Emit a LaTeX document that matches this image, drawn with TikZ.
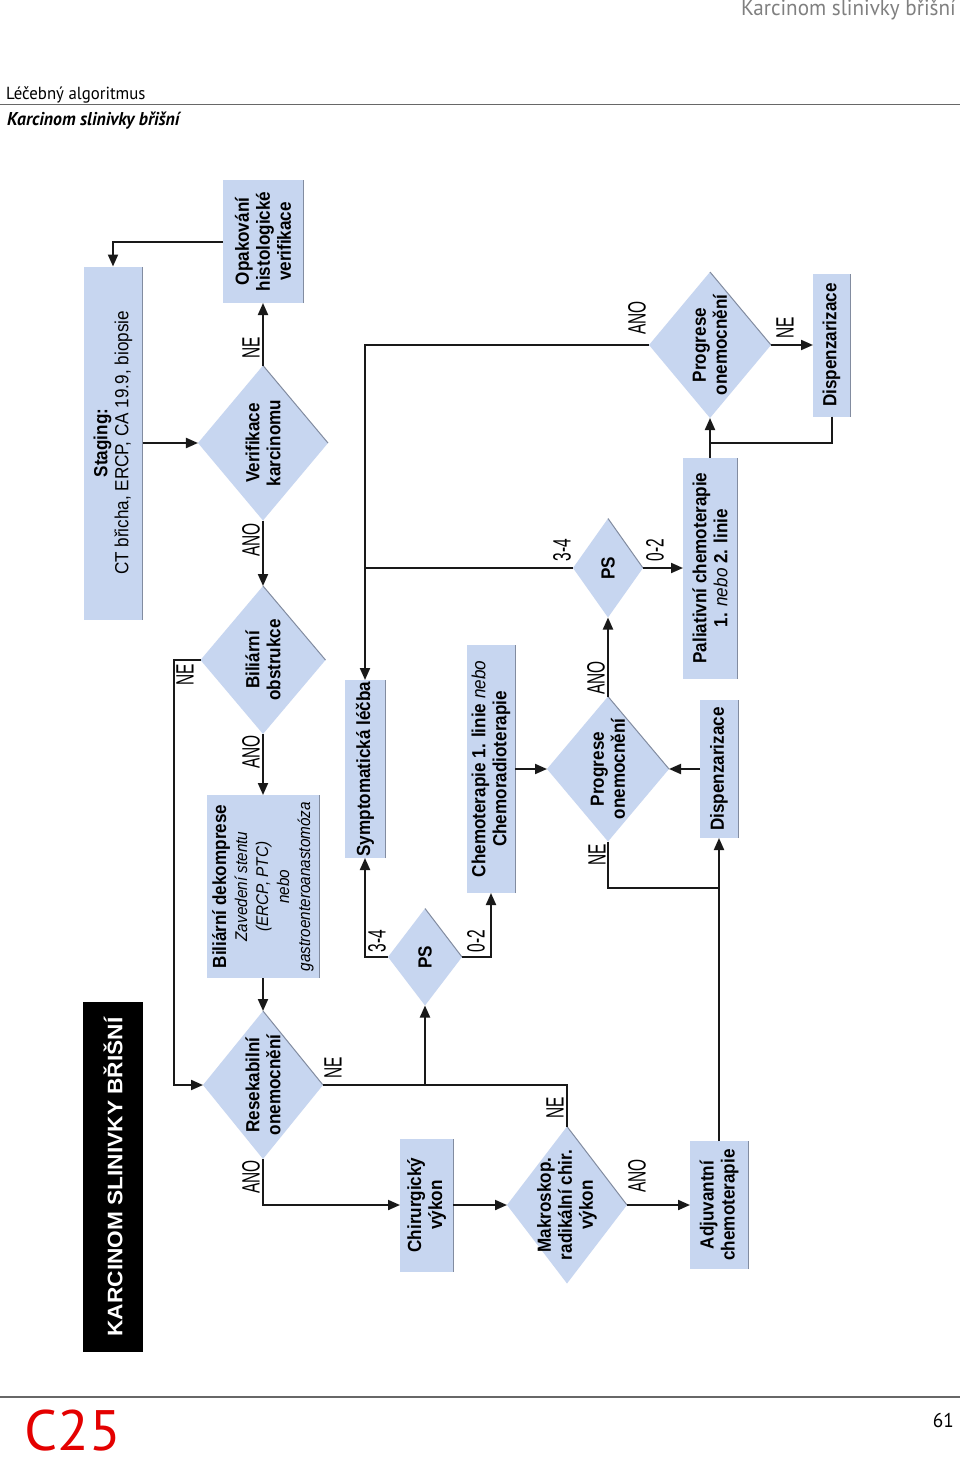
\documentclass[tikz,border=0pt]{standalone}
\usepackage{fontspec}
\setmainfont{Liberation Sans}
\newfontfamily\flowfont[FakeStretch=0.9]{Liberation Sans}
\newfontfamily\lblfont[FakeStretch=0.62]{Liberation Sans}
\newfontfamily\ttlfont[FakeStretch=1.08]{Liberation Sans}
\newfontfamily\pagefont[FakeStretch=0.96]{PT Sans}
\newfontfamily\codefont[FakeStretch=1.02]{PT Sans}
\usetikzlibrary{arrows.meta,shapes.geometric}
\definecolor{boxc}{RGB}{199,214,240}
\definecolor{linec}{RGB}{25,25,25}
\definecolor{shadec}{RGB}{130,140,160}
\definecolor{headc}{RGB}{128,128,128}
\definecolor{redc}{RGB}{228,0,0}
\newcommand\itinfo{\mdseries\itshape\fontsize{17}{21}\selectfont}

\begin{document}
\begin{tikzpicture}[x=1pt, y=-1pt,
  box/.style={rectangle, fill=boxc, rotate=90, inner sep=0pt, outer sep=0pt,
    align=center, font=\flowfont\fontsize{19}{21}\selectfont\bfseries},
  decide/.style={diamond, fill=boxc, rotate=90, inner sep=-30pt, outer sep=0pt,
    align=center, font=\flowfont\fontsize{19}{21}\selectfont\bfseries},
  flow/.style={draw=linec, line width=2pt, -{Triangle[length=12pt,width=10pt]}},
  link/.style={draw=linec, line width=2pt},
  lbl/.style={rotate=90, inner sep=0pt, font=\lblfont\fontsize{25}{25}\selectfont},
  edgeln/.style={draw=shadec, line width=1pt}]
  \useasboundingbox[fill=white] (0,0) rectangle (960,1458);

  % page head and foot
  \node[anchor=base east, inner sep=0pt, headc, font=\pagefont\fontsize{22}{22}\selectfont] (runhead) at (956,16) {Karcinom slinivky břišní};
  \node[anchor=base west, inner sep=0pt, font=\pagefont\fontsize{17.5}{17.5}\selectfont] (section) at (6,100) {Léčebný algoritmus};
  \draw[headc!80!black, line width=1.6pt] (0,104.5) -- (960,104.5);
  \node[anchor=base west, inner sep=0pt, font=\pagefont\fontsize{18.5}{18.5}\selectfont\bfseries\itshape] (chapter) at (7,126) {Karcinom slinivky břišní};
  \draw[headc!80!black, line width=1.6pt] (0,1397) -- (960,1397);
  \node[anchor=base west, inner sep=0pt, redc, font=\codefont\fontsize{57}{57}\selectfont] (code) at (24,1450) {C25};
  \node[anchor=base east, inner sep=0pt, font=\pagefont\fontsize{20}{20}\selectfont] (pageno) at (954,1427) {61};

  % title and boxes
  \node[rotate=90, fill=black, text=white, minimum width=350pt, minimum height=60pt,
    font=\ttlfont\fontsize{21}{21}\selectfont\bfseries] (title) at (113,1177) {KARCINOM SLINIVKY BŘIŠNÍ};
  \node[box, minimum width=353pt, minimum height=59pt] (staging) at (113,443)
    {Staging:\\{\mdseries CT břicha, ERCP, CA 19.9, biopsie}};
  \node[box, minimum width=123pt, minimum height=80pt] (opak) at (263,241.5)
    {Opakování\\histologické\\verifikace};
  \node[box, minimum width=183pt, minimum height=113pt] (bildek) at (263,886.5)
    {Biliární dekomprese\\ \itinfo Zavedení stentu\\ \itinfo (ERCP, PTC)\\ \itinfo nebo\\ \itinfo gastroenteroanastomóza};
  \node[box, minimum width=133pt, minimum height=53pt] (chir) at (426.5,1205) {Chirurgický\\výkon};
  \node[box, minimum width=128pt, minimum height=58pt] (adj) at (719,1205) {Adjuvantní\\chemoterapie};
  \node[box, minimum width=178pt, minimum height=40pt] (symp) at (365,769) {Symptomatická léčba};
  \node[box, minimum width=248pt, minimum height=48pt] (chemo) at (491,769)
    {Chemoterapie 1. linie {\mdseries\itshape nebo}\\Chemoradioterapie};
  \node[box, minimum width=138pt, minimum height=38pt] (disp1) at (719,769) {Dispenzarizace};
  \node[box, minimum width=221pt, minimum height=54pt] (pal) at (710,568)
    {Paliativní chemoterapie\\1. {\mdseries\itshape nebo} 2. linie};
  \node[box, minimum width=143pt, minimum height=37pt] (disp2) at (831.5,345) {Dispenzarizace};

  % decisions
  \node[decide, minimum width=155pt, minimum height=130pt] (verif) at (263,443) {Verifikace\\karcinomu};
  \node[decide, minimum width=148pt, minimum height=125pt] (bilobs) at (263,660) {Biliární\\obstrukce};
  \node[decide, minimum width=148pt, minimum height=120pt] (resek) at (263,1085) {Resekabilní\\onemocnění};
  \node[decide, minimum width=157pt, minimum height=120pt] (makro) at (567,1205) {Makroskop.\\radikální chir.\\výkon};
  \node[decide, minimum width=97pt, minimum height=74pt] (ps1) at (425,957) {PS};
  \node[decide, minimum width=145pt, minimum height=122pt] (prog1) at (608,769) {Progrese\\onemocnění};
  \node[decide, minimum width=99pt, minimum height=70pt] (ps2) at (608,568) {PS};
  \node[decide, minimum width=146pt, minimum height=122pt] (prog2) at (710,345) {Progrese\\onemocnění};

  % edge shading
  \foreach \d in {verif,bilobs,resek,makro,ps1,prog1,ps2,prog2}
    \draw[edgeln] (\d.east) -- (\d.south);
  \foreach \b in {staging,opak,bildek,chir,adj,symp,chemo,disp1,pal,disp2}
    \draw[edgeln] (\b.south west) -- (\b.south east);

  % junctions
  \coordinate (nex) at (174,660);
  \coordinate (psj) at (425,1085);
  \coordinate (nejoin) at (719,888);
  \coordinate (dispj) at (710,443);

  % connectors
  \draw[flow] (opak.north) -| (staging.east);
  \draw[flow] (staging) -- (verif);
  \draw[flow] (verif) -- (opak);
  \draw[flow] (verif) -- (bilobs);
  \draw[flow] (bilobs) -- (bildek);
  \draw[flow] (bildek) -- (resek);
  \draw[flow] (bilobs.north) -- (nex) |- (resek.north);
  \draw[link] (resek.south) -- (psj);
  \draw[link] (makro.east) |- (psj);
  \draw[flow] (psj) -- (ps1);
  \draw[flow] (resek.west) |- (chir);
  \draw[flow] (chir) -- (makro);
  \draw[flow] (makro) -- (adj);
  \draw[flow] (adj) -- (disp1);
  \draw[flow] (disp1) -- (prog1);
  \draw[flow] (chemo) -- (prog1);
  \draw[link] (prog1.west) |- (nejoin);
  \draw[flow] (prog1) -- (ps2);
  \draw[link] (ps2.north) -- (ps2.north -| symp.center);
  \draw[flow] (ps2) -- (pal);
  \draw[flow] (pal) -- (prog2);
  \draw[flow] (prog2) -- (disp2);
  \draw[link] (disp2.west) |- (dispj);
  \draw[flow] (prog2.north) -| (symp);
  \draw[flow] (ps1.north) -| (symp);
  \draw[flow] (ps1.south) -| (chemo);

  % branch labels
  \node[lbl] (lverne) at (251,348) {NE};
  \node[lbl] (lverano) at (251,540) {ANO};
  \node[lbl] (lbilano) at (251,752) {ANO};
  \node[lbl] (lbilne) at (185,675) {NE};
  \node[lbl] (lresne) at (333,1068) {NE};
  \node[lbl] (lresano) at (251,1177) {ANO};
  \node[lbl] (lmakne) at (555,1108) {NE};
  \node[lbl] (lmakano) at (637,1176) {ANO};
  \node[lbl] (lpsa) at (377,941) {3-4};
  \node[lbl] (lpsb) at (476,941) {0-2};
  \node[lbl] (lprne) at (597,855) {NE};
  \node[lbl] (lprano) at (596,678) {ANO};
  \node[lbl] (lpsc) at (562,550) {3-4};
  \node[lbl] (lpsd) at (655,550) {0-2};
  \node[lbl] (lprbano) at (637,318) {ANO};
  \node[lbl] (lprbne) at (785,328) {NE};
\end{tikzpicture}
\end{document}
